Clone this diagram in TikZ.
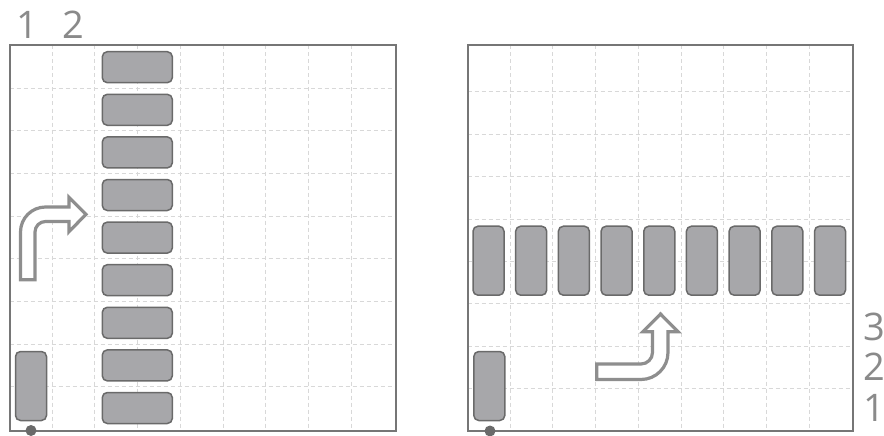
\documentclass[tikz,border=0pt]{standalone}
\usepackage{fontspec}
\setmainfont{Open Sans}
\definecolor{barfill}{HTML}{A7A7AA}
\definecolor{barline}{HTML}{6A6A6A}
\definecolor{gridc}{HTML}{D8D8D8}
\definecolor{boxc}{HTML}{767676}
\definecolor{arrc}{HTML}{8E8E8E}
\definecolor{txtc}{HTML}{8A8A8A}
\begin{document}
\begin{tikzpicture}[x=1pt,y=-1pt,
 hbar/.style={draw=barline, fill=barfill, line width=1.5pt, rounded corners=5pt, minimum width=70pt, minimum height=31pt, inner sep=0pt},
 vbar/.style={draw=barline, fill=barfill, line width=1.5pt, rounded corners=5pt, minimum width=31pt, minimum height=69pt, inner sep=0pt},
 gridline/.style={draw=gridc, line width=1pt, dash pattern=on 4pt off 3pt},
 panel/.style={draw=boxc, line width=2pt},
 bentarrow/.style={draw=arrc, line width=3.2pt, line join=miter, fill=white},
 lbl/.style={text=txtc, font=\fontsize{38}{38}\selectfont, inner sep=0pt, anchor=base},
 dot/.style={circle, fill=barline, inner sep=0pt, minimum size=11pt}]
\useasboundingbox (0,0) rectangle (884,436);
% ---------- left panel ----------
\foreach \i in {1,...,8} {
  \draw[gridline] ({9.5+42.7*\i},45.5) -- ({9.5+42.7*\i},430.5);
  \draw[gridline] (9.5,{45.5+42.65*\i}) -- (395.5,{45.5+42.65*\i});
}
\draw[panel] (9.5,45.5) rectangle (395.5,430.5);
\foreach \k in {0,...,8} \node[hbar] (L\k) at (137.3,{67.2+42.6*\k}) {};
\node[vbar] (LV) at (31,386) {};
\node[dot] (LD) at (31,430.5) {};
\draw[bentarrow] (20.5,279.7) -- (20.5,232) .. controls (20.5,218.2) and (31.7,207) .. (45.5,207)
  -- (69,207) -- (69,197.3) -- (86,214.3) -- (69,231.7) -- (69,221.5) -- (45.5,221.5)
  .. controls (39.7,221.5) and (35,226.2) .. (35,232) -- (35,279.7) -- cycle;
\node[lbl] (t1) at (27.5,39) {1};
\node[lbl] (t2) at (73.5,39) {2};
% ---------- right panel ----------
\foreach \i in {1,...,8} {
  \draw[gridline] ({467.5+42.7*\i},45.5) -- ({467.5+42.7*\i},431);
  \draw[gridline] (467.5,{431-42.4*\i}) -- (853,{431-42.4*\i});
}
\draw[panel] (467.5,45.5) rectangle (853,431);
\foreach \k in {0,...,8} \node[vbar] (R\k) at ({488.5+42.69*\k},260.7) {};
\node[vbar] (RV) at (489.3,386) {};
\node[dot] (RD) at (490,431) {};
\draw[bentarrow] (596.7,364) -- (641,364) .. controls (647.35,364) and (652.5,358.85) .. (652.5,352.5)
  -- (652.5,331.7) -- (643,331.7) -- (660.5,314) -- (678,331.7) -- (668,331.7) -- (668,352.5)
  .. controls (668,367.4) and (655.9,379.5) .. (641,379.5) -- (596.7,379.5) -- cycle;
\node[lbl] (r3) at (874,340) {3};
\node[lbl] (r2) at (874,380.5) {2};
\node[lbl] (r1) at (874,421.7) {1};
\end{tikzpicture}
\end{document}
